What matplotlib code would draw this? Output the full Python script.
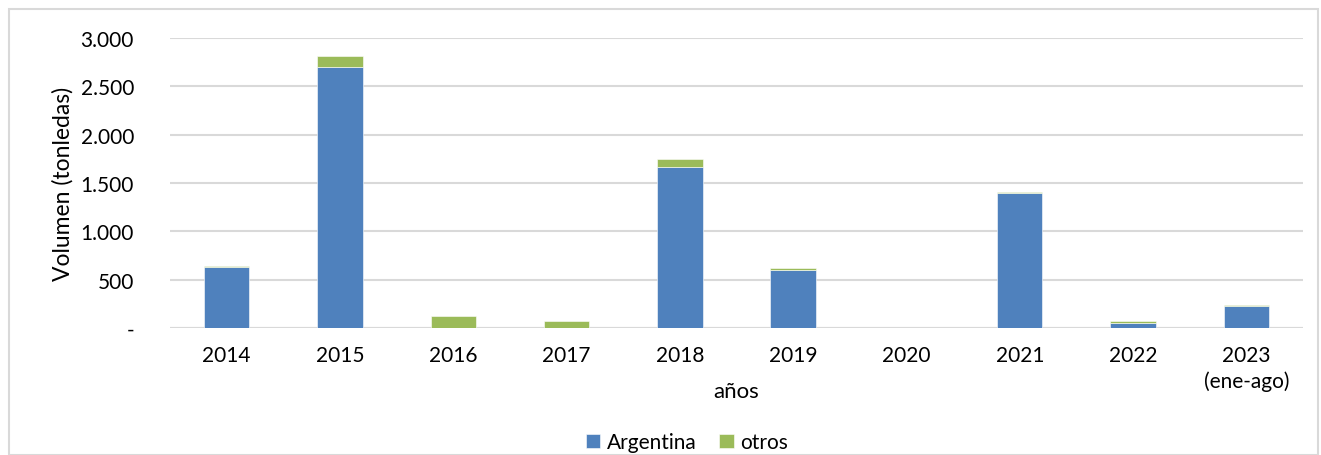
import matplotlib.pyplot as plt
from matplotlib.patches import Rectangle
import numpy as np

years = ['2014', '2015', '2016', '2017', '2018', '2019', '2020', '2021', '2022', '2023\n(ene-ago)']
argentina = [630, 2700, 0, 0, 1670, 600, 0, 1400, 55, 230]
otros = [8, 115, 120, 75, 75, 25, 0, 3, 17, 10]
yticks = [0, 500, 1000, 1500, 2000, 2500, 3000]
ytick_labels = ['-', '500', '1.000', '1.500', '2.000', '2.500', '3.000']

plt.rcParams['font.family'] = ['Lato', 'DejaVu Sans']

fig = plt.figure(figsize=(13.21, 4.56), dpi=100)
ax = fig.add_axes([170 / 1321, 1 - 329 / 456, 1133 / 1321, 290 / 456])

# chart frame
fig.patches.append(Rectangle((9 / 1321, 0), 1 - 12 / 1321, 1 - 10 / 456, transform=fig.transFigure,
                             fill=False, edgecolor='#d9d9d9', linewidth=1.5))

x = np.arange(len(years))
ax.bar(x, argentina, width=0.4, color='#4f81bd', edgecolor='white', linewidth=0.4,
       label='Argentina', zorder=3)
ax.bar(x, otros, width=0.4, bottom=argentina, color='#9bbb59', edgecolor='white', linewidth=0.4,
       label='otros', zorder=3)

ax.set_xlim(-0.5, len(years) - 0.5)
ax.set_ylim(0, 3000)
ax.set_yticks(yticks)
ax.set_yticklabels(ytick_labels)
ax.set_xticks(x)
ax.set_xticklabels(years, linespacing=1.35)
ax.grid(axis='y', color='#d9d9d9', linewidth=1.5, zorder=0)
ax.set_axisbelow(True)
for s in ax.spines.values():
    s.set_visible(False)
ax.tick_params(axis='both', length=0, labelsize=15, colors='black')
ax.tick_params(axis='x', pad=12)
ax.tick_params(axis='y', pad=26)
ax.axhline(0, color='#d9d9d9', linewidth=1.5, zorder=1)

ax.set_ylabel('Volumen (tonledas)', fontsize=16.5, labelpad=5)
ax.set_xlabel('años', fontsize=16, labelpad=-7)

fig.legend(loc='lower center', bbox_to_anchor=(0.52, -0.035), ncol=2, frameon=False,
           fontsize=15, handlelength=0.7, handleheight=0.7, handletextpad=0.3, columnspacing=1.1)

fig.savefig('out.png', dpi=100, facecolor='white')
